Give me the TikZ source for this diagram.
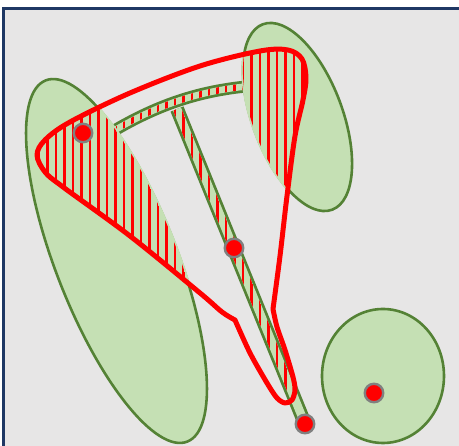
\documentclass[tikz,border=0pt]{standalone}
\usetikzlibrary{calc}
\definecolor{PanelGrey}{RGB}{231,230,230}
\definecolor{FrameNavy}{RGB}{31,56,100}
\definecolor{LeafGreen}{RGB}{197,224,180}
\definecolor{EdgeGreen}{RGB}{84,130,53}
\definecolor{LoopRed}{RGB}{255,0,0}
\definecolor{RingGrey}{RGB}{128,128,128}
\tikzset{
  blob/.style={fill=LeafGreen,draw=EdgeGreen,line width=2.6pt},
  blobcover/.style={fill=LeafGreen,draw=LeafGreen,line width=3.2pt},
  bandedge/.style={draw=EdgeGreen,line width=14pt},
  bandfill/.style={draw=LeafGreen,line width=8.5pt},
  arcedge/.style={draw=EdgeGreen,line width=12pt},
  arcfill/.style={draw=LeafGreen,line width=6.5pt},
  hatch/.style={draw=LoopRed,line width=2.1pt},
  loopline/.style={draw=LoopRed,line width=5pt,line join=round},
  dot/.style={circle,fill=LoopRed,draw=RingGrey,line width=2.4pt,
    minimum size=18.5pt,inner sep=0pt}
}
\newcommand{\redloop}{plot[smooth,tension=0.55] coordinates {(273,137) (280,190)
  (287,250) (295,310) (303,346) (306,368) (302,387) (288,396) (260,395) (200,380)
  (130,353) (70,324) (45,306) (37,291) (45,274) (63,259) (130,210) (200,153)
  (222,134) (235,126)}
  -- plot[smooth,tension=0.5] coordinates {(235,126) (250,93) (267,63) (277,48)
  (285,43) (292,46) (295,56) (293,69) (285,96) (277,119) (273,137)} -- cycle}
\newcommand{\hatchall}{\foreach \hx in {5,13.5,...,459} \draw[hatch] (\hx,0) -- (\hx,446);}

\begin{document}
\begin{tikzpicture}[x=1pt,y=1pt]
  \useasboundingbox (0,0) rectangle (459,446);
  \clip (0,0) rectangle (459,446);
  \fill[white] (0,0) rectangle (459,446);
  \filldraw[fill=PanelGrey,draw=FrameNavy,line width=3pt] (3.5,437.3) rectangle (480,-20);

  \draw[blob,rotate around={-68.6:(116.5,185)}] (116.5,185) ellipse [x radius=194,y radius=60.5];
  \draw[blob,rotate around={-69.5:(297.5,329)}] (297.5,329) ellipse [x radius=99,y radius=45];
  \draw[blob] (383,70) ellipse [x radius=61,y radius=67];

  \coordinate (st) at (177,337);
  \coordinate (sb) at (305,22);
  \draw[bandedge] (st) -- (sb);
  \draw[bandfill] (st) -- (sb);
  \begin{scope}
    \clip \redloop;
    \clip ($(st)!4.2pt!90:(sb)$) -- ($(sb)!4.2pt!-90:(st)$)
      -- ($(sb)!4.2pt!90:(st)$) -- ($(st)!4.2pt!-90:(sb)$) -- cycle;
    \hatchall
  \end{scope}

  \coordinate (al) at (116,316.5);
  \coordinate (ar) at (248,359.7);
  \draw[arcedge] (al) .. controls (160,342) and (200,355) .. (ar);
  \draw[arcfill] (al) .. controls (160,342) and (200,355) .. (ar);
  \begin{scope}
    \clip (116,319.7) .. controls (160,345.2) and (200,358.2) .. (248,362.9)
      -- (248,356.5) .. controls (200,351.8) and (160,338.8) .. (116,313.3) -- cycle;
    \hatchall
  \end{scope}

  \begin{scope}
    \clip \redloop;
    \filldraw[blobcover,rotate around={-68.6:(116.5,185)}] (116.5,185) ellipse [x radius=194,y radius=60.5];
    \filldraw[blobcover,rotate around={-69.5:(297.5,329)}] (297.5,329) ellipse [x radius=99,y radius=45];
    \begin{scope}
      \clip[rotate around={-68.6:(116.5,185)}] (116.5,185) ellipse [x radius=194,y radius=60.5];
      \hatchall
    \end{scope}
    \begin{scope}
      \clip[rotate around={-69.5:(297.5,329)}] (297.5,329) ellipse [x radius=99,y radius=45];
      \hatchall
    \end{scope}
  \end{scope}

  \draw[loopline] \redloop;

  \node[dot] (d1) at (83,313) {};
  \node[dot] (d2) at (234,198) {};
  \node[dot] (d3) at (305,22) {};
  \node[dot] (d4) at (374,53) {};
\end{tikzpicture}
\end{document}
